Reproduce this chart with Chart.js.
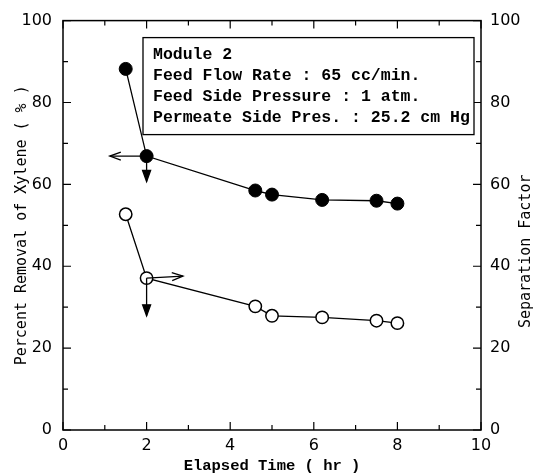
<!DOCTYPE html>
<html>
<head>
<meta charset="utf-8">
<script src="https://cdn.jsdelivr.net/npm/chart.js@4/dist/chart.umd.min.js"></script>
<style>
html,body{margin:0;padding:0;background:#fff;}
#wrap{width:535px;height:475px;}
</style>
</head>
<body>
<div id="wrap"><canvas id="c" width="535" height="475"></canvas></div>
<script>
// ---- data ----
const elapsedTime = [1.5, 2.0, 4.6, 5.0, 6.2, 7.5, 8.0];
const removalXylene = [88.2, 66.9, 58.5, 57.5, 56.2, 56.0, 55.3];
const separationFactor = [52.7, 37.1, 30.2, 27.9, 27.5, 26.7, 26.1];
const xTickValues = [0, 2, 4, 6, 8, 10];
const yTickValues = [0, 20, 40, 60, 80, 100];
const rightTitle = "Separation Factor";
const infoLines = [
  "Module 2",
  "Feed Flow Rate : 65 cc/min.",
  "Feed Side Pressure : 1 atm.",
  "Permeate Side Pres. : 25.2 cm Hg"
];
// arrows (data units): [x0, y0, x1, y1, axisId]
const arrowsFilled = [[2.0, 66.9, 1.12, 66.9, 'y'], [2.0, 66.9, 2.0, 60.7, 'y']];
const arrowsOpen = [[2.0, 37.1, 2.87, 37.6, 'y2'], [2.0, 37.1, 2.0, 27.9, 'y2']];

const pts = (xs, ys) => xs.map((x, i) => ({x: x, y: ys[i]}));

const framePlugin = {
  id: 'frame',
  afterDatasetsDraw(chart) {
    const ctx = chart.ctx, a = chart.chartArea;
    const sx = chart.scales.x, sy = chart.scales.y, sy2 = chart.scales.y2;
    ctx.save();
    ctx.strokeStyle = '#000';
    ctx.lineWidth = 1.5;
    ctx.strokeRect(a.left, a.top, a.right - a.left, a.bottom - a.top);
    ctx.lineWidth = 1.2;
    for (let v = 0; v <= 10; v += 1) {
      const px = sx.getPixelForValue(v);
      const len = (v % 2 === 0) ? 8 : 5;
      ctx.beginPath();
      ctx.moveTo(px, a.bottom); ctx.lineTo(px, a.bottom - len);
      ctx.moveTo(px, a.top); ctx.lineTo(px, a.top + len);
      ctx.stroke();
    }
    for (let v = 0; v <= 100; v += 10) {
      const len = (v % 20 === 0) ? 8 : 5;
      const py = sy.getPixelForValue(v);
      const py2 = sy2.getPixelForValue(v);
      ctx.beginPath();
      ctx.moveTo(a.left, py); ctx.lineTo(a.left + len, py);
      ctx.moveTo(a.right, py2); ctx.lineTo(a.right - len, py2);
      ctx.stroke();
    }
    const drawArrow = (ar, filledHead) => {
      const ys = chart.scales[ar[4]];
      const x0 = sx.getPixelForValue(ar[0]), y0 = ys.getPixelForValue(ar[1]);
      const x1 = sx.getPixelForValue(ar[2]), y1 = ys.getPixelForValue(ar[3]);
      const ang = Math.atan2(y1 - y0, x1 - x0);
      const hl = 11, hw = 4;
      ctx.lineWidth = 1.3;
      ctx.beginPath(); ctx.moveTo(x0, y0); ctx.lineTo(x1, y1); ctx.stroke();
      const bx = x1 - hl * Math.cos(ang), by = y1 - hl * Math.sin(ang);
      const nx = -Math.sin(ang) * hw, ny = Math.cos(ang) * hw;
      ctx.beginPath();
      ctx.moveTo(bx + nx, by + ny); ctx.lineTo(x1, y1); ctx.lineTo(bx - nx, by - ny);
      if (filledHead) { ctx.closePath(); ctx.fillStyle = '#000'; ctx.fill(); }
      ctx.stroke();
    };
    drawArrow(arrowsFilled[0], false);
    drawArrow(arrowsFilled[1], true);
    drawArrow(arrowsOpen[0], false);
    drawArrow(arrowsOpen[1], true);
    // info box
    const bx0 = a.left + 80, by0 = a.top + 17, bw = 331, bh = 97;
    ctx.fillStyle = '#fff';
    ctx.fillRect(bx0, by0, bw, bh);
    ctx.lineWidth = 1.3;
    ctx.strokeRect(bx0, by0, bw, bh);
    ctx.fillStyle = '#000';
    ctx.font = 'bold 16.5px "Liberation Mono", "DejaVu Sans Mono", monospace';
    ctx.textBaseline = 'middle';
    ctx.textAlign = 'left';
    infoLines.forEach((t, i) => ctx.fillText(t, bx0 + 10, by0 + 17 + i * 21));
    // right axis title, reading bottom-to-top
    ctx.translate(sy2.right - 9, (a.top + a.bottom) / 2 + 26);
    ctx.rotate(-Math.PI / 2);
    ctx.textAlign = 'center';
    ctx.font = '15px "DejaVu Sans Mono", monospace';
    ctx.fillText(rightTitle, 0, 0);
    ctx.restore();
  }
};

const tickFont = {family: '"DejaVu Sans", sans-serif', size: 16};
const titleFont = {family: '"DejaVu Sans Mono", monospace', size: 15};

new Chart(document.getElementById('c'), {
  type: 'scatter',
  data: {
    datasets: [
      {
        data: pts(elapsedTime, removalXylene),
        yAxisID: 'y',
        showLine: true,
        borderColor: '#000',
        borderWidth: 1.3,
        pointBackgroundColor: '#000',
        pointBorderColor: '#000',
        pointRadius: 6.5,
        pointBorderWidth: 1
      },
      {
        data: pts(elapsedTime, separationFactor),
        yAxisID: 'y2',
        showLine: true,
        borderColor: '#000',
        borderWidth: 1.3,
        pointBackgroundColor: '#fff',
        pointBorderColor: '#000',
        pointRadius: 6.2,
        pointBorderWidth: 1.5
      }
    ]
  },
  options: {
    responsive: false,
    animation: false,
    devicePixelRatio: 1,
    layout: {padding: {top: 18, left: 0, right: 0, bottom: 0}},
    plugins: {legend: {display: false}, tooltip: {enabled: false}},
    scales: {
      x: {
        type: 'linear', min: 0, max: 10,
        afterBuildTicks: s => { s.ticks = xTickValues.map(v => ({value: v})); },
        ticks: {color: '#000', font: tickFont, padding: 6, maxRotation: 0, autoSkip: false},
        grid: {display: false, drawTicks: false},
        border: {display: false},
        title: {display: true, text: 'Elapsed Time ( hr )', color: '#000',
                font: {family: '"Liberation Mono", monospace', size: 15.5, weight: 'bold'},
                padding: {top: 0, bottom: 0}},
        afterFit: s => { s.height = 45; }
      },
      y: {
        type: 'linear', position: 'left', min: 0, max: 100,
        afterBuildTicks: s => { s.ticks = yTickValues.map(v => ({value: v})); },
        ticks: {color: '#000', font: tickFont, padding: 11, autoSkip: false},
        grid: {display: false, drawTicks: false},
        border: {display: false},
        title: {display: true, text: 'Percent Removal of Xylene ( % )', color: '#000',
                font: titleFont, padding: {top: 13, bottom: 0}},
        afterFit: s => { s.width = 63; }
      },
      y2: {
        type: 'linear', position: 'right', min: 0, max: 100,
        afterBuildTicks: s => { s.ticks = yTickValues.map(v => ({value: v})); },
        ticks: {color: '#000', font: tickFont, padding: 9, autoSkip: false},
        grid: {display: false, drawTicks: false},
        border: {display: false},
        title: {display: false},
        afterFit: s => { s.width = 54; }
      }
    }
  },
  plugins: [framePlugin]
});
</script>
</body>
</html>
